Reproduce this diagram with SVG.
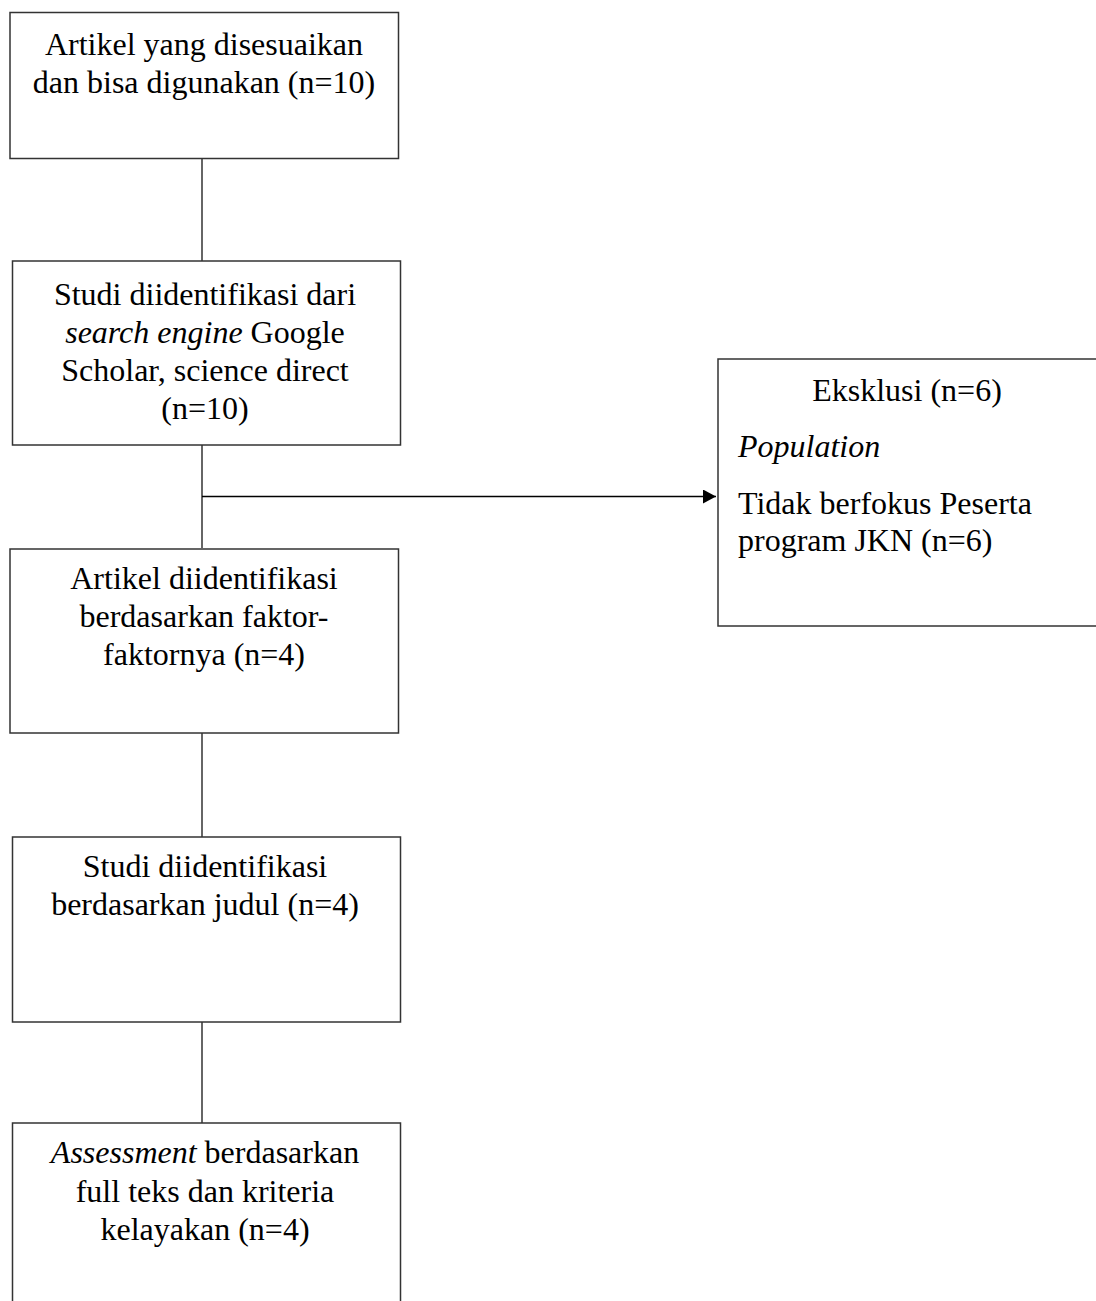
<svg xmlns="http://www.w3.org/2000/svg" width="1096" height="1301" viewBox="0 0 1096 1301">
<style>
.box{fill:#fff;stroke:#333;stroke-width:1.5}
.t{font-family:"Liberation Serif","Times New Roman",serif;font-size:32px;fill:#000}
.c{text-anchor:middle}
.i{font-style:italic}
.ln{stroke:#333;stroke-width:1.5;fill:none}
</style>
<defs>
<marker id="ah" viewBox="0 0 13 14" refX="13" refY="7" markerWidth="13" markerHeight="14" markerUnits="userSpaceOnUse" orient="auto">
<path d="M0,0 L13,7 L0,14 z" fill="#000"/>
</marker>
</defs>
<rect width="1096" height="1301" fill="#fff"/>
<g id="connectors">
<line class="ln" x1="202" y1="158" x2="202" y2="261"/>
<line class="ln" x1="202" y1="445" x2="202" y2="548"/>
<line class="ln" x1="202" y1="496.5" x2="716" y2="496.5" marker-end="url(#ah)" style="stroke:#000;stroke-width:1.3"/>
<line class="ln" x1="202" y1="733" x2="202" y2="837"/>
<line class="ln" x1="202" y1="1022" x2="202" y2="1123"/>
</g>
<g id="n1">
<rect class="box" x="10" y="12.5" width="388.5" height="146"/>
<text class="t c" x="204" y="55">Artikel yang disesuaikan</text>
<text class="t c" x="204" y="93">dan bisa digunakan (n=10)</text>
</g>
<g id="n2">
<rect class="box" x="12.5" y="261" width="388" height="184"/>
<text class="t c" x="205" y="305">Studi diidentifikasi dari</text>
<text class="t c" x="205" y="343"><tspan class="i">search engine</tspan> Google</text>
<text class="t c" x="205" y="381">Scholar, science direct</text>
<text class="t c" x="205" y="419">(n=10)</text>
</g>
<g id="n3">
<rect class="box" x="10" y="549" width="388.5" height="184"/>
<text class="t c" x="204" y="589">Artikel diidentifikasi</text>
<text class="t c" x="204" y="627">berdasarkan faktor-</text>
<text class="t c" x="204" y="665">faktornya (n=4)</text>
</g>
<g id="n4">
<rect class="box" x="12.5" y="837" width="388" height="185"/>
<text class="t c" x="205" y="877">Studi diidentifikasi</text>
<text class="t c" x="205" y="915">berdasarkan judul (n=4)</text>
</g>
<g id="n5">
<rect class="box" x="12.5" y="1123" width="388" height="190"/>
<text class="t c" x="205" y="1163"><tspan class="i">Assessment</tspan> berdasarkan</text>
<text class="t c" x="205" y="1202">full teks dan kriteria</text>
<text class="t c" x="205" y="1240">kelayakan (n=4)</text>
</g>
<g id="n6">
<rect class="box" x="718" y="359" width="390" height="267"/>
<text class="t c" x="907" y="401">Eksklusi (n=6)</text>
<text class="t i" x="738" y="457">Population</text>
<text class="t" x="738" y="514">Tidak berfokus Peserta</text>
<text class="t" x="738" y="551">program JKN (n=6)</text>
</g>
</svg>
